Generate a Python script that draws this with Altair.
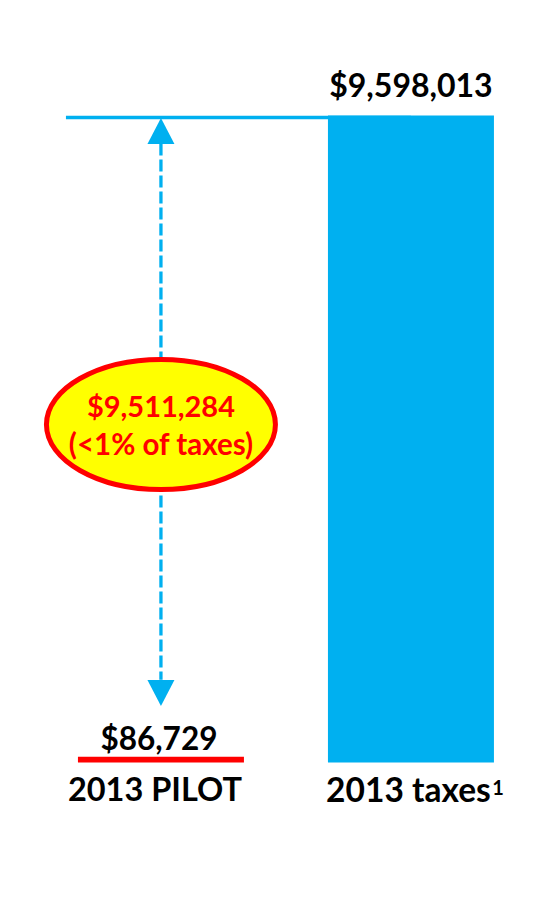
import altair as alt
import pandas as pd

# ---- data ----
CATEGORIES = ["2013 PILOT", "2013 taxes"]
VALUES = [86729, 9598013]
CATEGORY_LABELS = ["2013 PILOT", "2013 taxes"]
FOOTNOTE_MARKS = ["", "1"]
BAR_COLORS = ["#ff0000", "#00b0f0"]
SHARE_NOTE = "(<1% of taxes)"

ACCENT = "#00b0f0"
FONT = "Lato"

bars_df = pd.DataFrame({
    "category": CATEGORIES, "value": VALUES, "label": CATEGORY_LABELS, "note": FOOTNOTE_MARKS,
})
ann_df = pd.DataFrame({
    "pilot_cat": [CATEGORIES[0]],
    "taxes_cat": [CATEGORIES[1]],
    "pilot": [VALUES[0]],
    "taxes": [VALUES[1]],
})

x_scale = alt.Scale(domain=CATEGORIES, paddingInner=0.336, paddingOuter=0.244, align=0.5733)
y_scale = alt.Scale(domain=[-1743000, 11193000], nice=False, zero=False)


def X(field, **kw):
    return alt.X(field, type="nominal", scale=x_scale, axis=None, **kw)


def Y(field):
    return alt.Y(field, type="quantitative", scale=y_scale, axis=None)


def only(cat):
    return alt.Chart(bars_df).transform_filter(alt.datum.category == cat)


bars = alt.Chart(bars_df).mark_bar().encode(
    x=X("category"),
    y=Y("value"),
    y2=alt.datum(0),
    color=alt.Color("category:N", scale=alt.Scale(domain=CATEGORIES, range=BAR_COLORS), legend=None),
)

hline = alt.Chart(ann_df).mark_rule(color=ACCENT, strokeWidth=3.5, xOffset=-12, yOffset=2).encode(
    x=X("pilot_cat", bandPosition=0),
    x2="taxes_cat:N",
    y=Y("taxes"),
)

dash = alt.Chart(ann_df).mark_rule(
    color=ACCENT, strokeWidth=3.3, strokeDash=[12, 4], yOffset=28, y2Offset=-77
).encode(
    x=X("pilot_cat"),
    y=Y("taxes"),
    y2="pilot:Q",
)

arrow_up = alt.Chart(ann_df).mark_point(
    shape="M-1,0.96L0,-0.96L1,0.96Z", size=729, filled=True, color=ACCENT, opacity=1, yOffset=15.5
).encode(x=X("pilot_cat"), y=Y("taxes"))

arrow_down = alt.Chart(ann_df).mark_point(
    shape="M-1,-0.96L0,0.96L1,-0.96Z", size=729, filled=True, color=ACCENT, opacity=1, yOffset=-63.6
).encode(x=X("pilot_cat"), y=Y("pilot"))

ann_mid = alt.Chart(ann_df).transform_calculate(
    mid="(datum.taxes + datum.pilot) / 2",
    diff="datum.taxes - datum.pilot",
)

ellipse = ann_mid.mark_point(
    shape="M-1,0A1,0.5686 0 1,0 1,0A1,0.5686 0 1,0 -1,0Z",
    size=52440,
    filled=True,
    fill="#ffff00",
    stroke="#ff0000",
    strokeWidth=5,
    opacity=1,
    fillOpacity=1,
    strokeOpacity=1,
    yOffset=-11.6,
).encode(x=X("pilot_cat"), y=Y("mid"))

diff_text = ann_mid.mark_text(
    font=FONT, fontWeight="bold", fontSize=29, color="#ff0000", baseline="alphabetic", dy=-19
).encode(x=X("pilot_cat"), y=Y("mid"), text=alt.Text("diff:Q", format="$,.0f"))

note_text = ann_mid.mark_text(
    font=FONT, fontWeight="bold", fontSize=29.5, color="#ff0000", baseline="alphabetic", dy=19
).encode(x=X("pilot_cat"), y=Y("mid"), text=alt.datum(SHARE_NOTE))

val_taxes = only(CATEGORIES[1]).mark_text(
    font=FONT, fontWeight="bold", fontSize=32, color="black", baseline="alphabetic", dy=-18.5
).encode(x=X("category"), y=Y("value"), text=alt.Text("value:Q", format="$,.0f"))

val_pilot = only(CATEGORIES[0]).mark_text(
    font=FONT, fontWeight="bold", fontSize=31.5, color="black", baseline="alphabetic", dy=-7, dx=-2
).encode(x=X("category"), y=Y("value"), text=alt.Text("value:Q", format="$,.0f"))

cat_pilot = only(CATEGORIES[0]).mark_text(
    font=FONT, fontWeight="bold", fontSize=32.5, color="black", baseline="alphabetic", dy=38.5, dx=-6
).encode(x=X("category"), y=alt.datum(0), text="label:N")

cat_taxes = only(CATEGORIES[1]).mark_text(
    font=FONT, fontWeight="bold", fontSize=33.5, color="black", baseline="alphabetic", dy=39.5, dx=-2.5
).encode(x=X("category"), y=alt.datum(0), text="label:N")

cat_note = only(CATEGORIES[1]).mark_text(
    font=FONT, fontWeight="bold", fontSize=20, color="black", baseline="alphabetic", dy=32, dx=87
).encode(x=X("category"), y=alt.datum(0), text="note:N")

chart = alt.layer(
    hline, bars, dash, arrow_up, arrow_down, ellipse, diff_text, note_text,
    val_taxes, val_pilot, cat_pilot, cat_taxes, cat_note,
).properties(
    width=538,
    height=872,
    padding=0,
    autosize=alt.AutoSizeParams(type="none"),
    background="white",
).configure_view(stroke=None)

chart.save("out.html", embed_options={"renderer": "svg", "actions": False})
